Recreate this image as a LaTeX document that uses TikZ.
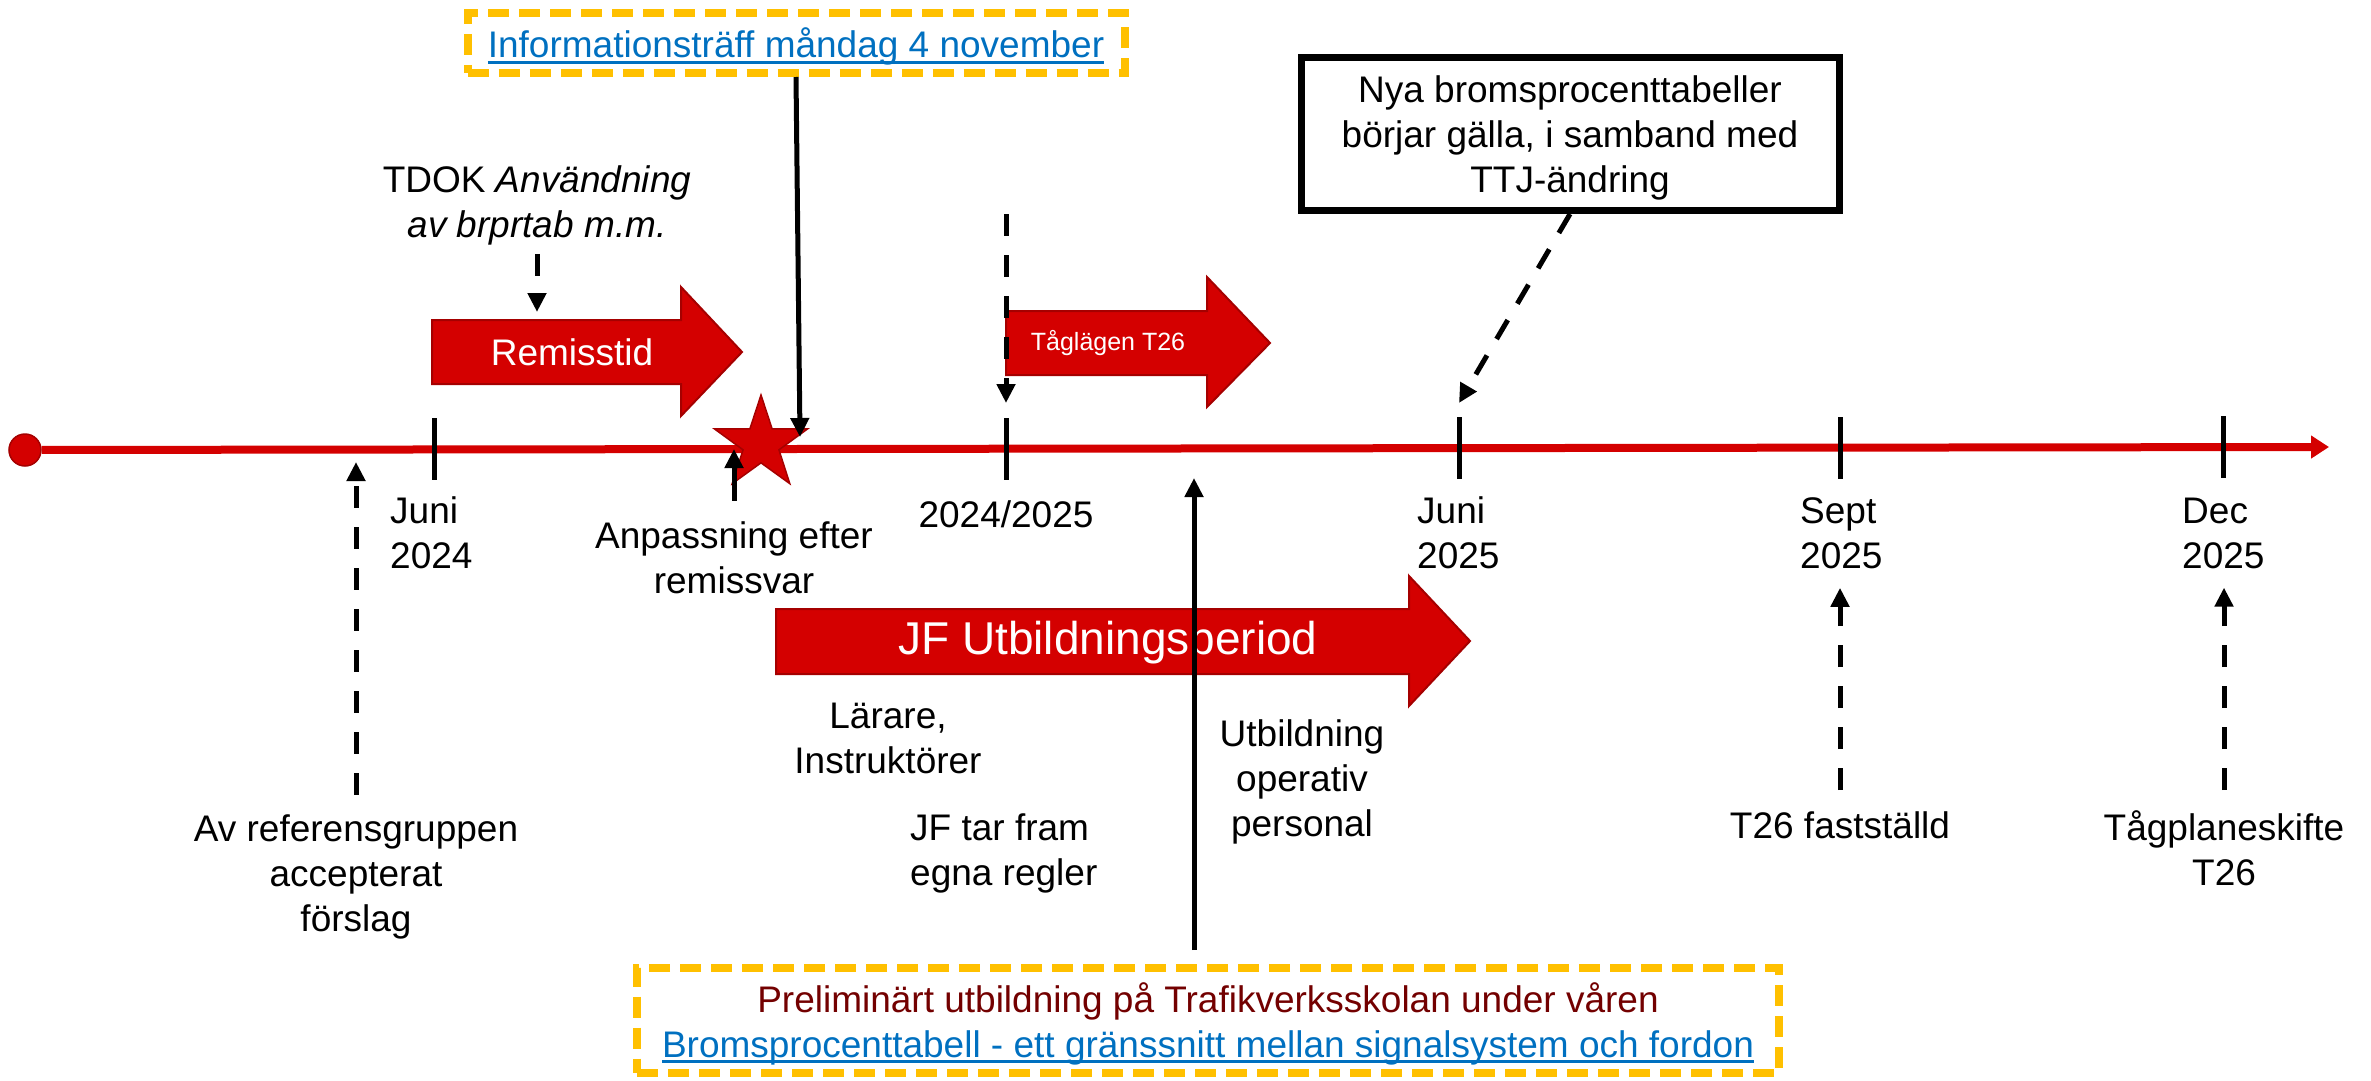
\documentclass[tikz,border=0pt]{standalone}
\usepackage{fontspec}
\setmainfont{Liberation Sans}
\usetikzlibrary{positioning, arrows.meta, shapes.geometric, calc}

\definecolor{tvred}{RGB}{212,0,0}
\definecolor{tvdark}{RGB}{165,0,0}
\definecolor{tvyellow}{RGB}{255,192,0}
\definecolor{tvblue}{RGB}{0,112,192}
\definecolor{tvmaroon}{RGB}{115,0,0}
\newsavebox{\lnkbox}
\newcommand{\lnk}[1]{\sbox{\lnkbox}{\color{tvblue}#1}%
   {\color{tvblue}\rlap{\rule[-6pt]{\wd\lnkbox}{3pt}}}\usebox{\lnkbox}}

\begin{document}
\begin{tikzpicture}[x=1pt, y=-1pt,
   txt/.style={inner sep=0pt, align=center, font=\fontsize{37}{45}\selectfont},
   datum/.style={txt, align=left, anchor=west},
   tick/.style={line width=5pt},
   dasharrow/.style={line width=5pt, dash pattern=on 22pt off 19pt, -{Triangle[length=19pt,width=18pt]}},
   solidarrow/.style={line width=5pt, -{Triangle[length=19pt,width=18pt]}},
   blockarrow/.style={fill=tvred, draw=tvdark, line width=2pt},
   yellowbox/.style={draw=tvyellow, line width=8pt, dash pattern=on 21pt off 10pt, text depth=0pt}]
   \useasboundingbox (0,0) rectangle (2371,1081);

   % tidslinje
   \node[circle, fill=tvred, draw=tvdark, line width=1.5pt, minimum size=32pt, inner sep=0pt] (start) at (25,450) {};
   \coordinate (slut) at (2329,447);
   \draw[tvred, line width=8pt, -{Triangle[length=18pt,width=22pt]}] (start) -- (slut);
   \coordinate (m_jun24) at (434,449);
   \coordinate (m_2425) at (1006,449);
   \coordinate (m_jun25) at (1459,448);
   \coordinate (m_sep25) at (1840,448);
   \coordinate (m_dec25) at (2223,447);
   \foreach \m in {m_jun24, m_2425, m_jun25, m_sep25, m_dec25}
      \draw[tick] ($(\m)+(0,-31)$) -- ($(\m)+(0,31)$);

   \node[datum] (d_jun24) at (390,533) {Juni\\2024};
   \node[txt] (d_2425) at (1006,514) {2024/2025};
   \node[datum] (d_jun25) at (1417,533) {Juni\\2025};
   \node[datum] (d_sep25) at (1800,533) {Sept\\2025};
   \node[datum] (d_dec25) at (2182,533) {Dec\\2025};

   % perioder
   \draw[blockarrow] (432,320) -- (681,320) -- (681,287) -- (742,352) -- (681,416) -- (681,384) -- (432,384) -- cycle;
   \node[txt, text=white] (remiss) at (572,352) {Remisstid};
   \draw[blockarrow] (1006,311) -- (1207,311) -- (1207,277) -- (1270,343) -- (1207,407) -- (1207,375) -- (1006,375) -- cycle;
   \node[txt, text=white, font=\fontsize{25}{30}\selectfont] (taglagen) at (1108,343) {Tåglägen T26};
   \draw[blockarrow] (776,609) -- (1409,609) -- (1409,576) -- (1470,641) -- (1409,706) -- (1409,674) -- (776,674) -- cycle;
   \node[txt, text=white, font=\fontsize{46}{50}\selectfont] (jf) at (1108,643) {JF Utbildningsperiod};

   \node[star, star points=5, star point ratio=2.6, minimum size=98pt, inner sep=0pt,
         fill=tvred, draw=tvdark, line width=1.5pt] (stjarna) at (761,444) {};

   % texter
   \node[txt] (tdok) at (537,205) {TDOK \textit{Användning}\\\textit{av brprtab m.m.}};
   \node[txt] (anp) at (734,558) {Anpassning efter\\remissvar};
   \node[txt] (avref) at (356,877) {Av referensgruppen\\accepterat\\förslag};
   \node[txt] (larare) at (888,738) {Lärare,\\Instruktörer};
   \node[datum] (jfregler) at (910,853) {JF tar fram\\egna regler};
   \node[txt] (opers) at (1302,782) {Utbildning\\operativ\\personal};
   \node[txt] (t26) at (1840,825) {T26 fastställd};
   \node[txt] (tagplan) at (2224,848) {Tågplaneskifte\\T26};

   % rutor
   \node[txt, yellowbox, minimum width=657pt, minimum height=60pt] (info) at (796,43)
      {\lnk{Informationsträff måndag 4 november}};
   \node[txt, draw, line width=7pt, text depth=0pt, minimum width=538pt, minimum height=153pt] (nya) at (1570,134)
      {Nya bromsprocenttabeller\\börjar gälla, i samband med\\TTJ-ändring};
   \node[txt, yellowbox, minimum width=1142pt, minimum height=105pt] (prelim) at (1208,1020)
      {\textcolor{tvmaroon}{Preliminärt utbildning på Trafikverksskolan under våren}\\
       \lnk{Bromsprocenttabell - ett gränssnitt mellan signalsystem och fordon}};

   % pilar
   \draw[dasharrow, shorten <=9pt] (tdok.south) -- (tdok.south |- 0,312);
   \draw[dasharrow] ($(m_2425)+(0,-235)$) -- ($(m_2425)+(0,-46)$);
   \draw[dasharrow] (nya.south) -- ($(m_jun25)+(0,-45)$);
   \coordinate (p_info) at (800,437);
   \draw[solidarrow] (info.south) -- (p_info);
   \draw[solidarrow, shorten <=21pt] (anp.north) -- (anp.north |- m_jun24);
   \draw[dasharrow, shorten <=20pt, shorten >=13pt] (avref.north) -- (avref.north |- m_jun24);
   \draw[solidarrow] (1194,950) -- (1194,478);
   \draw[dasharrow, shorten <=21pt, shorten >=19pt] (t26.north) -- (t26.north |- d_sep25.south);
   \draw[dasharrow, shorten <=20pt, shorten >=19pt] (tagplan.north) -- (tagplan.north |- d_dec25.south);
\end{tikzpicture}
\end{document}
